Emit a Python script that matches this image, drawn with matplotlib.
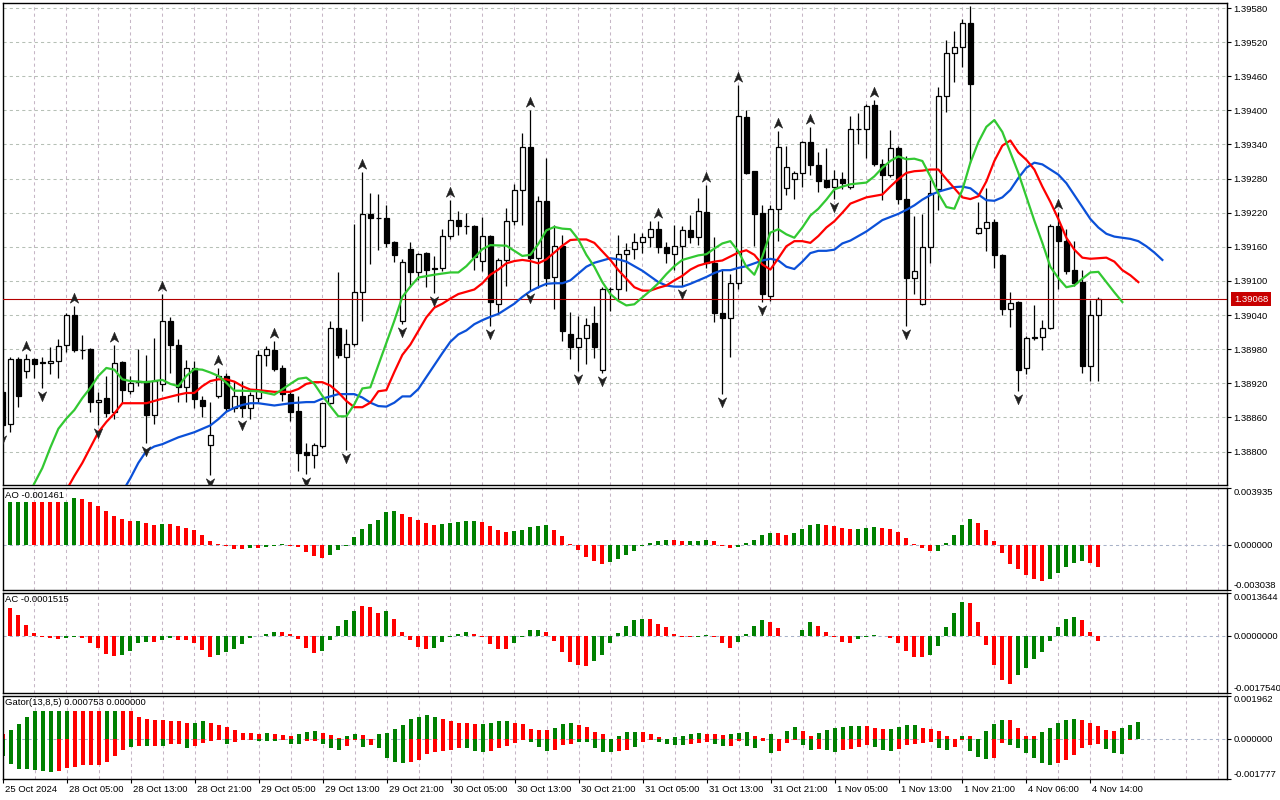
import matplotlib
matplotlib.use("Agg")
import matplotlib.pyplot as plt
import matplotlib.transforms as mtransforms
from matplotlib.path import Path
import numpy as np

plt.rcParams['font.family'] = ['Liberation Sans', 'DejaVu Sans']
plt.rcParams['font.size'] = 6.8

# ---- H1 candles (bar index 0 .. 137) ----
opens = [
    1.38905, 1.38849, 1.38962, 1.38942, 1.38962, 1.38956, 1.38956, 1.38960, 1.38987, 1.39041,
    1.38979, 1.38980, 1.38887, 1.38894, 1.38870, 1.38957, 1.38907, 1.38924, 1.38924, 1.38864,
    1.38919, 1.39029, 1.38987, 1.38913, 1.38947, 1.38890, 1.38812, 1.38897, 1.38933, 1.38877,
    1.38898, 1.38877, 1.38894, 1.38969, 1.38978, 1.38947, 1.38901, 1.38871, 1.38799, 1.38794,
    1.38810, 1.38885, 1.39018, 1.38967, 1.38990, 1.39081, 1.39217, 1.39211, 1.39210, 1.39168,
    1.39029, 1.39156, 1.39115, 1.39149, 1.39122, 1.39122, 1.39179, 1.39207, 1.39197, 1.39196,
    1.39135, 1.39179, 1.39059, 1.39137, 1.39205, 1.39260, 1.39336, 1.39141, 1.39240, 1.39107,
    1.39162, 1.39007, 1.38983, 1.38999, 1.39026, 1.38944, 1.39085, 1.39085, 1.39147, 1.39156,
    1.39169, 1.39178, 1.39192, 1.39160, 1.39147, 1.39161, 1.39189, 1.39178, 1.39221, 1.39131,
    1.39043, 1.39035, 1.39097, 1.39389, 1.39293, 1.39220, 1.39073, 1.39226, 1.39263, 1.39279,
    1.39289, 1.39345, 1.39304, 1.39278, 1.39265, 1.39279, 1.39266, 1.39367, 1.39368, 1.39410,
    1.39306, 1.39286, 1.39333, 1.39245, 1.39105, 1.39059, 1.39160, 1.39261, 1.39426, 1.39500,
    1.39512, 1.39554, 1.39185, 1.39194, 1.39204, 1.39146, 1.39051, 1.39063, 1.38947, 1.39000,
    1.39001, 1.39017, 1.39196, 1.39171, 1.39119, 1.39098, 1.38951, 1.39041,
]
highs = [
    1.38910, 1.38966, 1.38966, 1.38972, 1.38964, 1.38966, 1.38984, 1.38998, 1.39044, 1.39056,
    1.39005, 1.38982, 1.38905, 1.38932, 1.38988, 1.38960, 1.38933, 1.38981, 1.38969, 1.39000,
    1.39077, 1.39036, 1.38998, 1.38961, 1.38960, 1.38898, 1.38888, 1.38947, 1.38939, 1.38924,
    1.38924, 1.38905, 1.38978, 1.38986, 1.38995, 1.38952, 1.38907, 1.38898, 1.38815, 1.38815,
    1.38886, 1.39030, 1.39115, 1.39015, 1.39200, 1.39291, 1.39255, 1.39253, 1.39233, 1.39171,
    1.39138, 1.39168, 1.39150, 1.39151, 1.39144, 1.39192, 1.39243, 1.39223, 1.39219, 1.39198,
    1.39213, 1.39180, 1.39141, 1.39229, 1.39271, 1.39360, 1.39401, 1.39249, 1.39317, 1.39198,
    1.39181, 1.39046, 1.39038, 1.39035, 1.39056, 1.39090, 1.39089, 1.39180, 1.39167, 1.39184,
    1.39185, 1.39205, 1.39206, 1.39168, 1.39198, 1.39197, 1.39216, 1.39246, 1.39269, 1.39178,
    1.39119, 1.39112, 1.39444, 1.39400, 1.39294, 1.39234, 1.39234, 1.39364, 1.39338, 1.39294,
    1.39347, 1.39371, 1.39327, 1.39333, 1.39296, 1.39292, 1.39390, 1.39396, 1.39411, 1.39419,
    1.39314, 1.39366, 1.39337, 1.39320, 1.39215, 1.39218, 1.39278, 1.39441, 1.39524, 1.39539,
    1.39561, 1.39584, 1.39239, 1.39263, 1.39209, 1.39148, 1.39081, 1.39065, 1.39003, 1.39057,
    1.39032, 1.39200, 1.39221, 1.39191, 1.39170, 1.39119, 1.39067, 1.39071,
]
lows = [
    1.38835, 1.38835, 1.38879, 1.38930, 1.38929, 1.38911, 1.38937, 1.38929, 1.38975, 1.38975,
    1.38962, 1.38870, 1.38847, 1.38860, 1.38858, 1.38885, 1.38902, 1.38915, 1.38815, 1.38849,
    1.38907, 1.38939, 1.38888, 1.38888, 1.38876, 1.38861, 1.38759, 1.38894, 1.38871, 1.38870,
    1.38861, 1.38858, 1.38888, 1.38951, 1.38941, 1.38889, 1.38853, 1.38766, 1.38760, 1.38771,
    1.38806, 1.38883, 1.38964, 1.38803, 1.38985, 1.39029, 1.39129, 1.39155, 1.39159, 1.39134,
    1.39024, 1.39090, 1.39102, 1.39090, 1.39078, 1.39117, 1.39173, 1.39180, 1.39183, 1.39120,
    1.39117, 1.39021, 1.39042, 1.39091, 1.39199, 1.39199, 1.39084, 1.39087, 1.39091, 1.39051,
    1.38994, 1.38962, 1.38942, 1.38954, 1.38964, 1.38939, 1.39048, 1.39069, 1.39082, 1.39138,
    1.39149, 1.39160, 1.39149, 1.39132, 1.39119, 1.39092, 1.39167, 1.39163, 1.39122, 1.39028,
    1.38902, 1.38966, 1.39085, 1.39288, 1.39161, 1.39063, 1.39065, 1.39170, 1.39252, 1.39244,
    1.39266, 1.39286, 1.39256, 1.39263, 1.39245, 1.39262, 1.39261, 1.39340, 1.39317, 1.39302,
    1.39242, 1.39282, 1.39235, 1.39020, 1.39077, 1.39057, 1.39132, 1.39224, 1.39398, 1.39449,
    1.39476, 1.39308, 1.39183, 1.39153, 1.39123, 1.39041, 1.39019, 1.38906, 1.38937, 1.38996,
    1.38978, 1.39015, 1.39085, 1.39113, 1.39092, 1.38939, 1.38924, 1.38924,
]
closes = [
    1.38846, 1.38962, 1.38898, 1.38962, 1.38954, 1.38957, 1.38960, 1.38985, 1.39040, 1.38978,
    1.38978, 1.38887, 1.38890, 1.38867, 1.38956, 1.38909, 1.38921, 1.38923, 1.38864, 1.38924,
    1.39029, 1.38987, 1.38913, 1.38947, 1.38892, 1.38880, 1.38830, 1.38933, 1.38876, 1.38898,
    1.38877, 1.38900, 1.38969, 1.38980, 1.38945, 1.38901, 1.38869, 1.38797, 1.38794, 1.38812,
    1.38885, 1.39018, 1.38970, 1.38989, 1.39080, 1.39217, 1.39211, 1.39210, 1.39167, 1.39146,
    1.39134, 1.39115, 1.39148, 1.39120, 1.39121, 1.39179, 1.39207, 1.39196, 1.39196, 1.39142,
    1.39179, 1.39063, 1.39137, 1.39205, 1.39260, 1.39336, 1.39141, 1.39241, 1.39106, 1.39161,
    1.39012, 1.38983, 1.38999, 1.39023, 1.38984, 1.39086, 1.39086, 1.39147, 1.39155, 1.39169,
    1.39178, 1.39191, 1.39160, 1.39149, 1.39161, 1.39189, 1.39178, 1.39223, 1.39131, 1.39044,
    1.39035, 1.39097, 1.39390, 1.39290, 1.39218, 1.39077, 1.39226, 1.39335, 1.39300, 1.39289,
    1.39345, 1.39304, 1.39276, 1.39265, 1.39279, 1.39272, 1.39367, 1.39368, 1.39408, 1.39305,
    1.39286, 1.39333, 1.39244, 1.39105, 1.39117, 1.39160, 1.39254, 1.39426, 1.39500, 1.39512,
    1.39554, 1.39447, 1.39194, 1.39204, 1.39145, 1.39050, 1.39061, 1.38943, 1.39000, 1.39001,
    1.39017, 1.39196, 1.39170, 1.39117, 1.39097, 1.38951, 1.39041, 1.39068,
]

# ---- Bill Williams fractals (bar indices) ----
fractal_up = [3, 9, 14, 20, 27, 34, 45, 56, 66, 82, 88, 92, 97, 101, 109, 121, 132]
fractal_down = [0, 5, 12, 18, 26, 30, 38, 43, 50, 54, 61, 66, 72, 75, 85, 90, 95, 104, 113, 127]

# ---- Alligator lines (bar index, price) ----
lips_x = [3, 4, 5, 6, 7, 8, 9, 10, 11, 12, 13, 14, 15, 16, 18, 20, 21, 22, 23, 24, 25, 26, 27, 28, 29, 30,
          32, 33, 34, 36, 37, 38, 39, 40, 42, 43, 44, 45, 46, 47, 48, 49, 50, 51, 52, 54, 56, 57, 58, 60, 61,
          63, 64, 65, 66, 67, 68, 69, 70, 71, 72, 73, 74, 75, 76, 77, 78, 79, 80, 81, 82, 83, 84, 85, 86, 87,
          88, 89, 90, 91, 92, 93, 94, 95, 96, 97, 98, 99, 100, 101, 102, 103, 104, 105, 106, 108, 109, 110,
          111, 112, 113, 114, 115, 116, 117, 118, 119, 120, 121, 122, 123, 124, 125, 126, 127, 128, 129, 130,
          131, 132, 133, 134, 135, 136, 137, 138, 139, 140]
lips_y = [1.38715, 1.38744, 1.38771, 1.38807, 1.38840, 1.38858, 1.38873, 1.38894, 1.38912, 1.38933,
          1.38947, 1.38944, 1.38927, 1.38924, 1.38922, 1.38926, 1.38919, 1.38915, 1.38933, 1.38945,
          1.38944, 1.38939, 1.38933, 1.38921, 1.38907, 1.38907, 1.38906, 1.38903, 1.38900, 1.38919,
          1.38928, 1.38930, 1.38919, 1.38898, 1.38862, 1.38862, 1.38883, 1.38911, 1.38913, 1.38952,
          1.38991, 1.39030, 1.39072, 1.39090, 1.39106, 1.39111, 1.39115, 1.39115, 1.39126, 1.39156,
          1.39163, 1.39162, 1.39153, 1.39144, 1.39146, 1.39165, 1.39189, 1.39195, 1.39192, 1.39191,
          1.39173, 1.39146, 1.39125, 1.39098, 1.39077, 1.39065, 1.39057, 1.39059, 1.39071, 1.39083,
          1.39096, 1.39112, 1.39126, 1.39137, 1.39141, 1.39145, 1.39147, 1.39157, 1.39166, 1.39170,
          1.39152, 1.39125, 1.39111, 1.39143, 1.39185, 1.39191, 1.39182, 1.39176, 1.39194, 1.39215,
          1.39227, 1.39243, 1.39261, 1.39266, 1.39270, 1.39273, 1.39284, 1.39299, 1.39311, 1.39319,
          1.39314, 1.39315, 1.39311, 1.39284, 1.39254, 1.39230, 1.39227, 1.39260, 1.39308, 1.39344,
          1.39371, 1.39383, 1.39362, 1.39326, 1.39290, 1.39248, 1.39206, 1.39167, 1.39125, 1.39105,
          1.39089, 1.39092, 1.39104, 1.39115, 1.39116, 1.39098, 1.39080, 1.39063]

teeth_x = [8, 9, 10, 11, 12, 13, 14, 15, 16, 18, 20, 22, 23, 24, 25, 26, 27, 28, 29, 30, 31, 32, 34, 36, 37,
           38, 39, 40, 41, 42, 43, 44, 45, 46, 47, 48, 49, 50, 51, 52, 53, 54, 55, 56, 57, 58, 59, 60, 61,
           62, 63, 64, 65, 66, 67, 68, 69, 70, 71, 72, 73, 74, 75, 76, 77, 78, 79, 80, 81, 82, 83, 84, 85,
           86, 87, 88, 89, 90, 91, 92, 93, 94, 95, 96, 97, 98, 99, 100, 101, 102, 103, 104, 105, 106, 108,
           110, 111, 112, 113, 114, 115, 116, 117, 118, 119, 120, 121, 122, 123, 124, 125, 126, 127, 128,
           129, 130, 131, 132, 133, 134, 135, 136, 137, 138, 139, 140, 141, 142]
teeth_y = [1.38732, 1.38757, 1.38780, 1.38807, 1.38834, 1.38852, 1.38867, 1.38885, 1.38885, 1.38885,
           1.38893, 1.38900, 1.38903, 1.38903, 1.38915, 1.38924, 1.38927, 1.38927, 1.38923, 1.38915,
           1.38909, 1.38908, 1.38905, 1.38905, 1.38910, 1.38919, 1.38922, 1.38922, 1.38916, 1.38904,
           1.38889, 1.38878, 1.38878, 1.38886, 1.38906, 1.38908, 1.38940, 1.38970, 1.38988, 1.39012,
           1.39036, 1.39053, 1.39060, 1.39069, 1.39077, 1.39081, 1.39085, 1.39096, 1.39111, 1.39120,
           1.39131, 1.39135, 1.39137, 1.39135, 1.39131, 1.39138, 1.39150, 1.39162, 1.39172, 1.39173,
           1.39173, 1.39167, 1.39152, 1.39137, 1.39119, 1.39104, 1.39089, 1.39083, 1.39083, 1.39088,
           1.39092, 1.39101, 1.39109, 1.39120, 1.39127, 1.39131, 1.39134, 1.39136, 1.39143, 1.39150,
           1.39154, 1.39146, 1.39129, 1.39120, 1.39140, 1.39161, 1.39170, 1.39170, 1.39167, 1.39179,
           1.39194, 1.39205, 1.39220, 1.39236, 1.39247, 1.39252, 1.39266, 1.39279, 1.39290, 1.39293,
           1.39294, 1.39296, 1.39296, 1.39279, 1.39263, 1.39247, 1.39244, 1.39249, 1.39275, 1.39311,
           1.39338, 1.39347, 1.39326, 1.39313, 1.39296, 1.39266, 1.39239, 1.39209, 1.39176, 1.39155,
           1.39141, 1.39139, 1.39140, 1.39141, 1.39134, 1.39119, 1.39110, 1.39098]

jaw_x = [15, 16, 17, 18, 19, 20, 22, 24, 26, 27, 28, 29, 30, 31, 32, 33, 34, 36, 38, 39, 40, 42, 44, 45, 46,
         47, 48, 49, 50, 51, 52, 53, 54, 55, 56, 57, 58, 59, 60, 61, 62, 63, 64, 65, 66, 67, 68, 69, 70, 71,
         72, 73, 74, 75, 76, 77, 78, 79, 80, 81, 82, 83, 84, 85, 86, 87, 88, 89, 90, 91, 92, 93, 94, 95, 96,
         97, 98, 99, 100, 101, 102, 103, 104, 105, 106, 108, 110, 112, 113, 114, 115, 116, 117, 118, 119,
         120, 121, 122, 123, 124, 125, 126, 127, 128, 129, 130, 131, 132, 133, 134, 135, 136, 137, 138, 139,
         140, 141, 142, 143, 144, 145]
jaw_y = [1.38729, 1.38753, 1.38780, 1.38801, 1.38809, 1.38813, 1.38825, 1.38834, 1.38846, 1.38857,
         1.38870, 1.38877, 1.38882, 1.38885, 1.38885, 1.38883, 1.38881, 1.38885, 1.38887, 1.38887,
         1.38893, 1.38901, 1.38901, 1.38895, 1.38886, 1.38880, 1.38879, 1.38886, 1.38897, 1.38897,
         1.38910, 1.38931, 1.38952, 1.38973, 1.38993, 1.39006, 1.39013, 1.39024, 1.39031, 1.39037,
         1.39042, 1.39051, 1.39060, 1.39072, 1.39082, 1.39089, 1.39095, 1.39096, 1.39096, 1.39101,
         1.39113, 1.39125, 1.39132, 1.39136, 1.39140, 1.39138, 1.39134, 1.39126, 1.39118, 1.39108,
         1.39098, 1.39092, 1.39090, 1.39090, 1.39095, 1.39101, 1.39107, 1.39114, 1.39119, 1.39119,
         1.39123, 1.39126, 1.39131, 1.39136, 1.39139, 1.39136, 1.39125, 1.39121, 1.39134, 1.39149,
         1.39153, 1.39153, 1.39155, 1.39166, 1.39171, 1.39187, 1.39207, 1.39218, 1.39225, 1.39233,
         1.39243, 1.39251, 1.39257, 1.39261, 1.39265, 1.39266, 1.39263, 1.39252, 1.39242, 1.39241,
         1.39247, 1.39260, 1.39281, 1.39299, 1.39308, 1.39305, 1.39296, 1.39287, 1.39272, 1.39251,
         1.39230, 1.39209, 1.39194, 1.39183, 1.39178, 1.39176, 1.39174, 1.39170, 1.39161, 1.39150,
         1.39137]

# ---- Awesome Oscillator ----
ao = [
    0.00283, 0.00299, 0.00299, 0.00299, 0.00299, 0.00299, 0.00299, 0.00299, 0.00299, 0.00324,
    0.00318, 0.00299, 0.00271, 0.00235, 0.00202, 0.00179, 0.00167, 0.00167, 0.00154, 0.00140,
    0.00147, 0.00145, 0.00131, 0.00117, 0.00108, 0.00069, 0.00027, 0.00009, -0.00003, -0.00025,
    -0.00025, -0.00018, -0.00018, -0.00012, -0.00003, 0.00007, -0.00005, -0.00012, -0.00046, -0.00074,
    -0.00087, -0.00065, -0.00030, -0.00005, 0.00057, 0.00110, 0.00147, 0.00173, 0.00226, 0.00235,
    0.00214, 0.00193, 0.00173, 0.00152, 0.00138, 0.00145, 0.00152, 0.00158, 0.00166, 0.00166,
    0.00158, 0.00131, 0.00104, 0.00090, 0.00099, 0.00106, 0.00126, 0.00131, 0.00138, 0.00104,
    0.00062, 0.00007, -0.00035, -0.00083, -0.00110, -0.00131, -0.00117, -0.00096, -0.00069, -0.00041,
    -0.00005, 0.00014, 0.00027, 0.00035, 0.00034, 0.00027, 0.00028, 0.00029, 0.00034, 0.00027,
    -0.00005, -0.00018, -0.00012, 0.00014, 0.00035, 0.00069, 0.00083, 0.00082, 0.00069, 0.00083,
    0.00110, 0.00138, 0.00145, 0.00138, 0.00131, 0.00117, 0.00110, 0.00111, 0.00119, 0.00124,
    0.00117, 0.00110, 0.00090, 0.00048, 0.00007, -0.00018, -0.00039, -0.00038, 0.00014, 0.00069,
    0.00138, 0.00179, 0.00152, 0.00104, 0.00027, -0.00053, -0.00129, -0.00163, -0.00205, -0.00232,
    -0.00246, -0.00232, -0.00191, -0.00149, -0.00122, -0.00108, -0.00122, -0.001461,
]
ao_colors = ("ggggrrrrgg" "rrrrrrrgrr" "grrrrrrrrr" "rgrgggrrrr" "rggggggggg"
             "rrrrrggggg" "rrrrgggggr" "rrrrrrgggg" "ggggrrgggr" "rrgggggrrg"
             "gggrrrrggg" "rrrrrrrggg" "ggrrrrrrrr" "rgggggrr")

# ---- Accelerator Oscillator ----
ac = [
    0.00106, 0.00089, 0.00068, 0.00037, 0.00012, -0.00002, -0.00004, -0.00008, -0.00004, -0.00002,
    -0.00004, -0.00019, -0.00036, -0.00055, -0.00061, -0.00057, -0.00046, -0.00020, -0.00018, -0.00018,
    -0.00011, -0.00005, -0.00012, -0.00012, -0.00020, -0.00042, -0.00064, -0.00058, -0.00048, -0.00039,
    -0.00024, -0.00004, 0.00001, 0.00009, 0.00015, 0.00015, 0.00009, -0.00007, -0.00036, -0.00052,
    -0.00044, -0.00012, 0.00031, 0.00050, 0.00080, 0.00094, 0.00091, 0.00074, 0.00080, 0.00053,
    0.00015, -0.00011, -0.00033, -0.00039, -0.00036, -0.00018, -0.00002, 0.00009, 0.00015, 0.00009,
    -0.00003, -0.00024, -0.00039, -0.00039, -0.00020, -0.00002, 0.00019, 0.00021, 0.00015, -0.00014,
    -0.00048, -0.00079, -0.00089, -0.00092, -0.00077, -0.00058, -0.00020, 0.00012, 0.00034, 0.00050,
    0.00055, 0.00053, 0.00040, 0.00028, 0.00009, -0.00002, -0.00002, -0.00001, 0.00006, -0.00002,
    -0.00020, -0.00036, -0.00018, 0.00009, 0.00031, 0.00050, 0.00046, 0.00025, 0.00003, 0.00002,
    0.00021, 0.00044, 0.00034, 0.00015, -0.00002, -0.00018, -0.00020, -0.00008, -0.00003, 0.00006,
    0.00002, -0.00005, -0.00020, -0.00045, -0.00064, -0.00065, -0.00058, -0.00030, 0.00028, 0.00074,
    0.00108, 0.00105, 0.00044, -0.00027, -0.00089, -0.00135, -0.00147, -0.00119, -0.00098, -0.00070,
    -0.00048, -0.00014, 0.00028, 0.00055, 0.00061, 0.00050, 0.00015, -0.0001515,
]
ac_colors = ("grrrrrrrgg" "rrrrrggggr" "ggrrrrrggg" "gggggrrrrr" "gggggrrrgr"
             "rrrrgggggr" "rrrrggggrr" "rrrrgggggg" "grrrrrrggr" "rrggggrrrr"
             "ggrrrrrggg" "rrrrrrgggg" "grrrrrrggg" "gggggrrr")

# ---- Gator Oscillator (13,8,5), bars 0 .. 142 ----
gator_up = [
    0.00022, 0.00040, 0.00067, 0.00102, 0.00129, 0.00129, 0.00129, 0.00129, 0.00129, 0.00129,
    0.00129, 0.00129, 0.00129, 0.00129, 0.00129, 0.00129, 0.00129, 0.00098, 0.00093, 0.00087,
    0.00087, 0.00083, 0.00083, 0.00072, 0.00072, 0.00080, 0.00074, 0.00062, 0.00053, 0.00040,
    0.00028, 0.00028, 0.00025, 0.00028, 0.00023, 0.00021, 0.00017, 0.00025, 0.00032, 0.00038,
    0.00030, 0.00018, 0.00004, 0.00013, 0.00022, 0.00018, 0.00001, 0.00023, 0.00028, 0.00045,
    0.00062, 0.00089, 0.00102, 0.00107, 0.00102, 0.00089, 0.00080, 0.00072, 0.00072, 0.00067,
    0.00067, 0.00072, 0.00080, 0.00080, 0.00072, 0.00067, 0.00047, 0.00040, 0.00040, 0.00049,
    0.00067, 0.00072, 0.00062, 0.00053, 0.00034, 0.00023, 0.00001, 0.00017, 0.00031, 0.00031,
    0.00031, 0.00023, 0.00009, 0.00001, 0.00009, 0.00017, 0.00023, 0.00027, 0.00023, 0.00023,
    0.00018, 0.00023, 0.00027, 0.00031, 0.00017, 0.00004, 0.00023, 0.00001, 0.00036, 0.00053,
    0.00036, 0.00017, 0.00027, 0.00040, 0.00049, 0.00053, 0.00058, 0.00058, 0.00058, 0.00049,
    0.00045, 0.00045, 0.00053, 0.00062, 0.00062, 0.00049, 0.00045, 0.00036, 0.00017, 0.00001,
    0.00017, 0.00017, 0.00001, 0.00036, 0.00067, 0.00085, 0.00085, 0.00049, 0.00017, 0.00013,
    0.00031, 0.00049, 0.00071, 0.00088, 0.00093, 0.00088, 0.00075, 0.00058, 0.00040, 0.00036,
    0.00049, 0.00062, 0.000753,
]
gator_up_colors = ("rggggggggr" "rrrggrrrrr" "rrrrggrrrr" "rrrgrrrggg" "rrrggrrggg"
                   "gggggrrrrr" "ggggrrrrrg" "ggrrrrrggg" "rrrgggggrr" "rgggrrgrgg"
                   "rrggggggrr" "rggggrrrrr" "grrgggrrrr" "gggggrrrrr" "ggg")
gator_low = [
    0.00074, 0.00112, 0.00134, 0.00134, 0.00138, 0.00141, 0.00146, 0.00141, 0.00127, 0.00123,
    0.00117, 0.00117, 0.00117, 0.00101, 0.00076, 0.00046, 0.00034, 0.00031, 0.00031, 0.00030,
    0.00030, 0.00021, 0.00019, 0.00038, 0.00030, 0.00017, 0.00009, 0.00002, 0.00021, 0.00013,
    0.00002, 0.00001, 0.00009, 0.00008, 0.00008, 0.00004, 0.00019, 0.00023, 0.00009, 0.00008,
    0.00022, 0.00038, 0.00046, 0.00030, 0.00004, 0.00034, 0.00027, 0.00039, 0.00082, 0.00101,
    0.00106, 0.00101, 0.00093, 0.00065, 0.00057, 0.00053, 0.00049, 0.00040, 0.00040, 0.00053,
    0.00058, 0.00053, 0.00040, 0.00031, 0.00017, 0.00004, 0.00013, 0.00034, 0.00052, 0.00049,
    0.00027, 0.00021, 0.00013, 0.00012, 0.00040, 0.00057, 0.00059, 0.00053, 0.00049, 0.00036,
    0.00012, 0.00004, 0.00013, 0.00023, 0.00027, 0.00027, 0.00023, 0.00017, 0.00013, 0.00023,
    0.00031, 0.00031, 0.00009, 0.00030, 0.00038, 0.00009, 0.00061, 0.00052, 0.00017, 0.00004,
    0.00025, 0.00047, 0.00043, 0.00047, 0.00057, 0.00047, 0.00043, 0.00034, 0.00025, 0.00034,
    0.00047, 0.00052, 0.00043, 0.00025, 0.00021, 0.00017, 0.00012, 0.00038, 0.00047, 0.00034,
    0.00004, 0.00052, 0.00079, 0.00087, 0.00083, 0.00017, 0.00025, 0.00038, 0.00061, 0.00082,
    0.00105, 0.00113, 0.00105, 0.00091, 0.00069, 0.00038, 0.00024, 0.00020, 0.00043, 0.00061,
    0.00065, 0.00003, 0.0,
]
gator_low_colors = ("gggggggrrr" "rrrrrrgrgr" "grrgrrrrgr" "rrgggrggrr" "gggrrgrggg"
                    "grrrrrrrgg" "grrrrrgggr" "rrgggggrrg" "rrggggrrrg" "grrggrgrrr"
                    "ggrggrrrrg" "ggrrrrrggr" "rgggrrgggg" "ggrrrrrrgg" "grr")

# ---- axes scales / labels ----
price_ticks = [1.38800, 1.38860, 1.38920, 1.38980, 1.39040, 1.39100, 1.39160,
               1.39220, 1.39280, 1.39340, 1.39400, 1.39460, 1.39520, 1.39580]
ao_range = (-0.003038, 0.003935)
ac_range = (-0.0017540, 0.0013644)
gator_range = (-0.001777, 0.001962)
time_label_bars = [0, 8, 16, 24, 32, 40, 48, 56, 64, 72, 80, 88, 96, 104, 112, 120, 128, 136]
time_labels = ["25 Oct 2024", "28 Oct 05:00", "28 Oct 13:00", "28 Oct 21:00", "29 Oct 05:00",
               "29 Oct 13:00", "29 Oct 21:00", "30 Oct 05:00", "30 Oct 13:00", "30 Oct 21:00",
               "31 Oct 05:00", "31 Oct 13:00", "31 Oct 21:00", "1 Nov 05:00", "1 Nov 13:00",
               "1 Nov 21:00", "4 Nov 06:00", "4 Nov 14:00"]

W, H = 1280, 800
GREEN = '#008000'
RED = '#ff0000'
GRID_V = '#c6b6c6'
GRID_H = '#b6c0b6'
ZERO_C = '#a8b2c8'
DASH = (0, (3, 3))
COLOR = {'g': GREEN, 'r': RED}
XMIN, XMAX = 0.084, 153.08


def px_axes(fig, x0, y0, x1, y1):
    return fig.add_axes([x0 / W, 1 - y1 / H, (x1 - x0) / W, (y1 - y0) / H])


def style_panel(ax):
    ax.set_xlim(XMIN, XMAX)
    ax.set_facecolor('white')
    for s in ax.spines.values():
        s.set_linewidth(1.0)
        s.set_color('black')
    for k in range(4, 153, 4):
        ax.axvline(k, color=GRID_V, lw=0.75, ls=DASH, zorder=0)
    ax.tick_params(axis='x', which='both', bottom=False, labelbottom=False)
    ax.yaxis.tick_right()
    ax.tick_params(axis='y', direction='out', length=3, width=0.8, pad=1.5,
                   labelsize=6.8, colors='black')


def indicator_panel(ax, rng, fmt):
    style_panel(ax)
    ax.set_ylim(*rng)
    ax.axhline(0, color=ZERO_C, lw=0.75, ls=DASH, zorder=0)
    ax.set_yticks([rng[0], 0.0, rng[1]])
    ax.set_yticklabels([fmt.format(rng[0]), fmt.format(0.0), fmt.format(rng[1])])
    for t, va in zip(ax.yaxis.get_major_ticks(), ['bottom', 'center', 'top']):
        t.label2.set_va(va)


def main():
    fig = plt.figure(figsize=(W / 100, H / 100), dpi=100)
    fig.patch.set_facecolor('white')

    o = np.array(opens)
    h = np.array(highs)
    lo = np.array(lows)
    c = np.array(closes)
    x = np.arange(len(o))

    # ---------------- main price chart ----------------
    ax = px_axes(fig, 3, 3, 1227, 485)
    style_panel(ax)
    ax.set_ylim(1.387412, 1.395888)
    for p in price_ticks:
        ax.axhline(p, color=GRID_H, lw=0.75, ls=DASH, zorder=0)
    ax.set_yticks(price_ticks)
    ax.set_yticklabels([f"{p:.5f}" for p in price_ticks])

    ax.vlines(x, lo, h, color='black', lw=0.9, zorder=2)
    up = c >= o
    ax.bar(x[up], (c - o)[up], bottom=o[up], width=0.62, facecolor='white',
           edgecolor='black', lw=0.9, zorder=3)
    ax.bar(x[~up], (o - c)[~up], bottom=c[~up], width=0.62, facecolor='black',
           edgecolor='black', lw=0.9, zorder=3)

    ax.plot(jaw_x, jaw_y, color='#0b50d8', lw=1.6, zorder=4)
    ax.plot(teeth_x, teeth_y, color=RED, lw=1.6, zorder=4)
    ax.plot(lips_x, lips_y, color='#32c832', lw=1.6, zorder=4)

    # fractal arrows
    up_arrow = Path([(0, 1), (0.8, -0.9), (0, -0.35), (-0.8, -0.9), (0, 1)],
                    [Path.MOVETO, Path.LINETO, Path.LINETO, Path.LINETO, Path.CLOSEPOLY])
    dn_arrow = Path([(0, -1), (0.8, 0.9), (0, 0.35), (-0.8, 0.9), (0, -1)],
                    [Path.MOVETO, Path.LINETO, Path.LINETO, Path.LINETO, Path.CLOSEPOLY])
    off_up = mtransforms.offset_copy(ax.transData, fig=fig, x=0, y=8, units='dots')
    off_dn = mtransforms.offset_copy(ax.transData, fig=fig, x=0, y=-8, units='dots')
    ax.plot(fractal_up, h[fractal_up], ls='none', marker=up_arrow, ms=7.5,
            mfc='#202020', mec='#202020', mew=0.4, transform=off_up, zorder=5)
    ax.plot(fractal_down, lo[fractal_down], ls='none', marker=dn_arrow, ms=7.5,
            mfc='#202020', mec='#202020', mew=0.4, transform=off_dn, zorder=5)

    # bid line and its price tag
    last = closes[-1]
    ax.axhline(last, color='#b40000', lw=0.8, zorder=3.5)
    bt = mtransforms.blended_transform_factory(ax.transAxes, ax.transData)
    ax.text(1.0058, last, f"{last:.5f}", transform=bt, ha='left', va='center',
            color='white', fontsize=6.8, clip_on=False, zorder=10,
            bbox=dict(boxstyle='square,pad=0.28', fc='#c80000', ec='none'))

    # ---------------- AO ----------------
    ax_ao = px_axes(fig, 3, 488, 1227, 589.5)
    indicator_panel(ax_ao, ao_range, "{:.6f}")
    ax_ao.bar(np.arange(len(ao)), ao, width=0.5, color=[COLOR[k] for k in ao_colors],
              lw=0, zorder=2)
    ax_ao.text(0.002, 0.975, f"AO {ao[-1]:.6f}", transform=ax_ao.transAxes,
               ha='left', va='top', fontsize=6.8)

    # ---------------- AC ----------------
    ax_ac = px_axes(fig, 3, 592.5, 1227, 693)
    indicator_panel(ax_ac, ac_range, "{:.7f}")
    ax_ac.bar(np.arange(len(ac)), ac, width=0.5, color=[COLOR[k] for k in ac_colors],
              lw=0, zorder=2)
    ax_ac.text(0.002, 0.975, f"AC {ac[-1]:.7f}", transform=ax_ac.transAxes,
               ha='left', va='top', fontsize=6.8)

    # ---------------- Gator ----------------
    ax_g = px_axes(fig, 3, 695.5, 1227, 779)
    indicator_panel(ax_g, gator_range, "{:.6f}")
    xg = np.arange(len(gator_up))
    ax_g.bar(xg, gator_up, width=0.5, color=[COLOR[k] for k in gator_up_colors],
             lw=0, zorder=2)
    ax_g.bar(xg, -np.array(gator_low), width=0.5,
             color=[COLOR[k] for k in gator_low_colors], lw=0, zorder=2)
    ax_g.text(0.002, 0.97, f"Gator(13,8,5) {gator_up[-1]:.6f} {gator_low[-1]:.6f}",
              transform=ax_g.transAxes, ha='left', va='top', fontsize=6.8)

    ax_g.tick_params(axis='x', which='both', bottom=True, labelbottom=True,
                     direction='out', length=3, width=0.8, pad=1.0, labelsize=6.8)
    ax_g.set_xticks(time_label_bars)
    ax_g.set_xticklabels(time_labels)
    shift = mtransforms.ScaledTranslation(2 / 100, 0, fig.dpi_scale_trans)
    for lbl in ax_g.get_xticklabels():
        lbl.set_ha('left')
        lbl.set_transform(lbl.get_transform() + shift)

    fig.savefig('out.png', dpi=100, facecolor='white')


if __name__ == "__main__":
    main()
